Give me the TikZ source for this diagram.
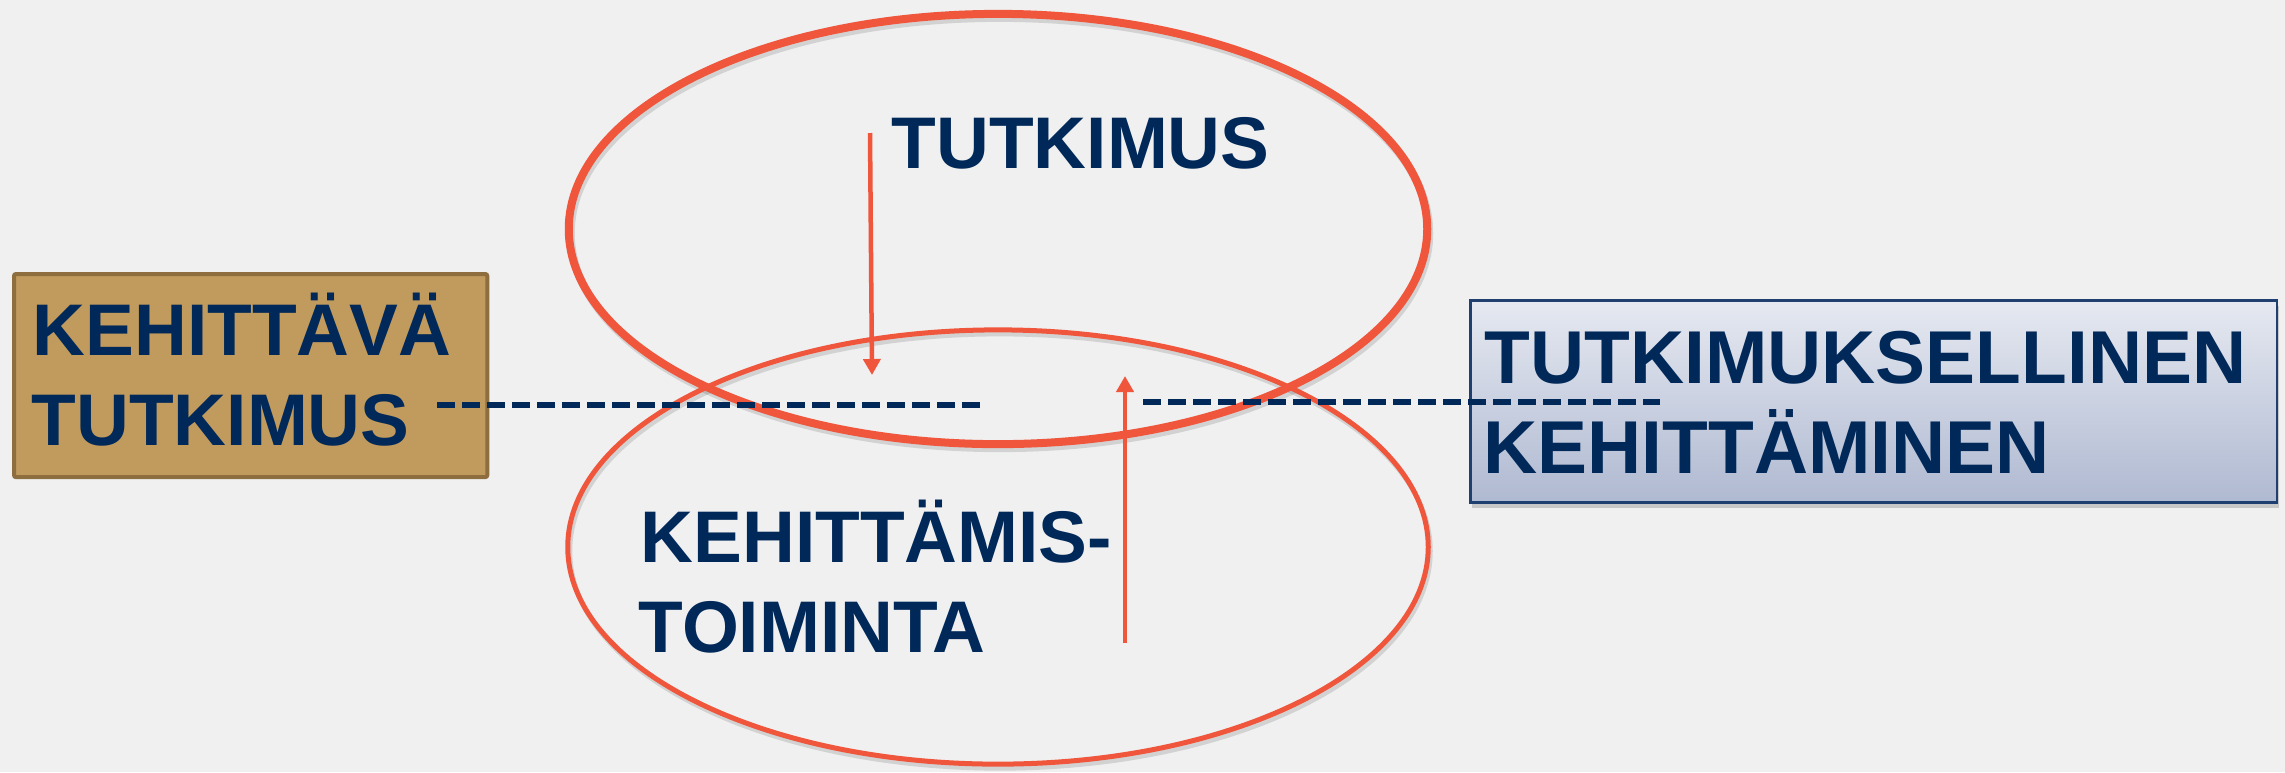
\documentclass[tikz,border=0pt]{standalone}
\usepackage{fontspec}
\setmainfont{Liberation Sans}
\usepackage{xcolor}
\usetikzlibrary{shapes.geometric, arrows.meta, positioning, shadows}
\definecolor{Paper}{RGB}{240, 240, 240}
\definecolor{Coral}{RGB}{239, 86, 60}
\definecolor{Navy}{RGB}{0, 40, 88}
\definecolor{Sand}{RGB}{193, 154, 93}
\definecolor{SandEdge}{RGB}{142, 110, 63}
\definecolor{MistTop}{RGB}{230, 233, 241}
\definecolor{MistBottom}{RGB}{175, 185, 209}
\definecolor{MistEdge}{RGB}{30, 63, 112}

\tikzset{
  ring/.style={draw=Coral, ellipse, inner sep=0pt},
  ringshade/.style={draw=black, opacity=0.12, ellipse, inner sep=0pt},
  lbl/.style={anchor=base west, inner sep=0pt, text=Navy,
    font=\fontsize{20.8pt}{25pt}\selectfont\bfseries},
  link/.style={draw=Navy, line width=0.06cm, dash pattern=on 0.18cm off 0.07cm},
  flow/.style={draw=Coral, line width=0.045cm, -{Triangle[length=0.16cm, width=0.17cm]}}
}

\begin{document}
\begin{tikzpicture}[x=0.01cm, y=-0.01cm]
            % Canvas
            \fill[Paper] (0,0) rectangle (2285,772);
            \useasboundingbox (0,0) rectangle (2285,772);

            % Circles
            \node[ringshade, line width=0.08cm, minimum width=8.58cm, minimum height=4.30cm] (tutks) at (1000,233) {};
            \node[ringshade, line width=0.05cm, minimum width=8.60cm, minimum height=4.34cm] (kehts) at (1000,551) {};
            \node[ring, line width=0.08cm, minimum width=8.58cm, minimum height=4.30cm] (tutk) at (998,229) {};
            \node[ring, line width=0.05cm, minimum width=8.60cm, minimum height=4.34cm] (keht) at (998,547) {};

            % Arrows
            \coordinate (d0) at (870,133);
            \coordinate (d1) at (872,375);
            \coordinate (u0) at (1125,643);
            \coordinate (u1) at (1125,376);
            \draw[flow] (d0) -- (d1);
            \draw[flow] (u0) -- (u1);

            % Side boxes
            \node[draw=SandEdge, fill=Sand, line width=0.04cm, rounded corners=0.02cm,
              minimum width=4.73cm, minimum height=2.03cm, anchor=north west] (kvbox) at (12,272) {};
            \node[draw=MistEdge, top color=MistTop, bottom color=MistBottom, line width=0.025cm,
              drop shadow={shadow xshift=0.02cm, shadow yshift=-0.06cm, opacity=0.35},
              minimum width=8.06cm, minimum height=2.02cm, anchor=north west] (tkbox) at (1469,299) {};

            % Labels
            \node[lbl] (kv1) at (32,355) {KEHITTÄVÄ};
            \node[lbl] (kv2) at (31,445) {TUTKIMUS};
            \node[lbl] (tt) at (891,168) {TUTKIMUS};
            \node[lbl] (kt1) at (640,562) {KEHITTÄMIS-};
            \node[lbl] (kt2) at (638,652) {TOIMINTA};
            \node[lbl, font=\fontsize{21.3pt}{25pt}\selectfont\bfseries] (tk1) at (1484,383) {TUTKIMUKSELLINEN};
            \node[lbl, font=\fontsize{21.3pt}{25pt}\selectfont\bfseries] (tk2) at (1483,473) {KEHITTÄMINEN};

            % Dashed links
            \coordinate (l0) at (437,405);
            \coordinate (l1) at (980,405);
            \coordinate (r0) at (1143,402);
            \coordinate (r1) at (1660,402);
            \draw[link] (l0) -- (l1);
            \draw[link] (r0) -- (r1);
        \end{tikzpicture}
\end{document}
